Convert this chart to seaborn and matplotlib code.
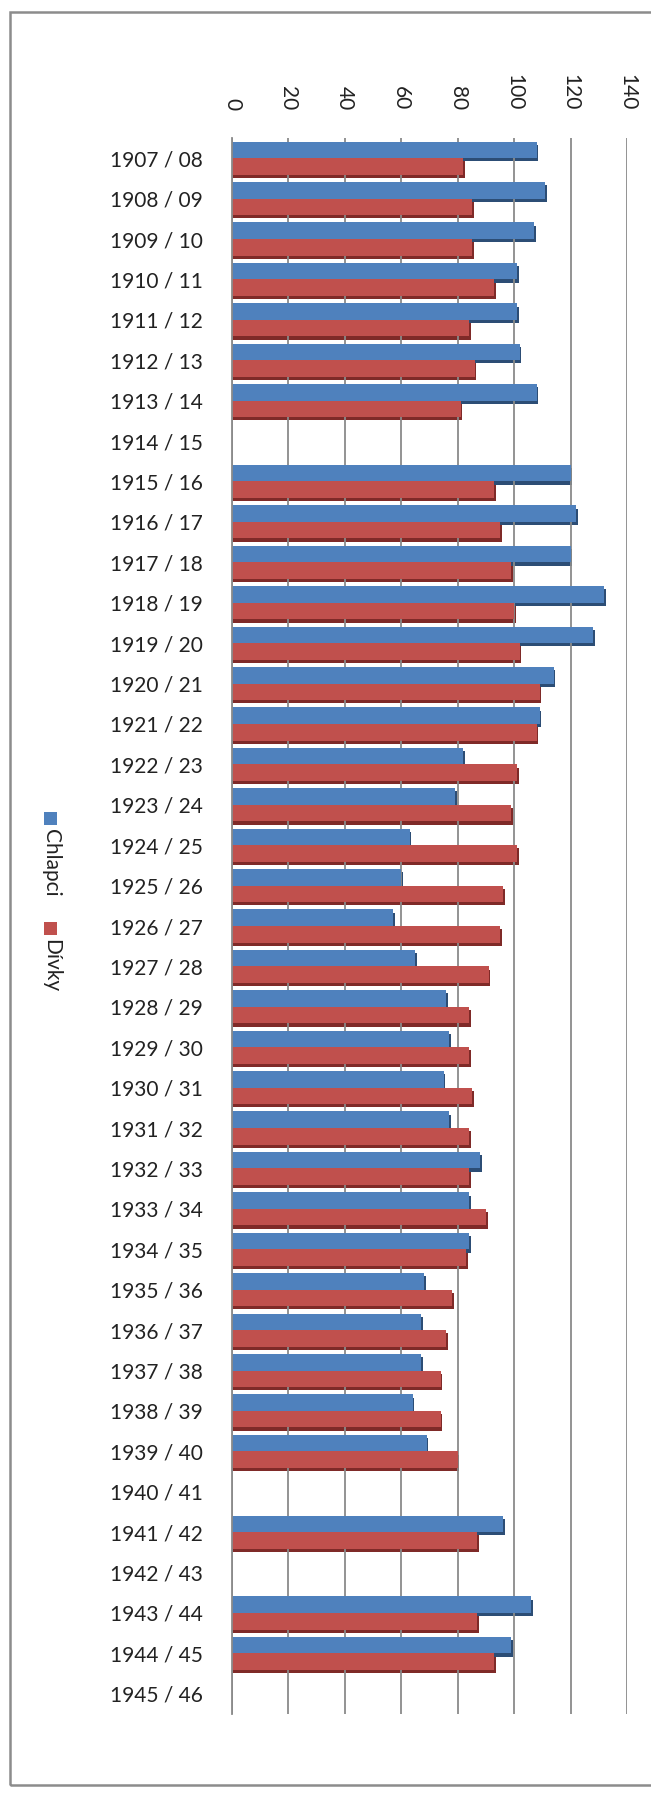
import numpy as np
import pandas as pd
import matplotlib
matplotlib.use("Agg")
import matplotlib.pyplot as plt
import seaborn as sns
from matplotlib.patches import Rectangle

# school years (categories), top to bottom
seasons = ["1907/08", "1908/09", "1909/10", "1910/11", "1911/12", "1912/13", "1913/14",
           "1914/15", "1915/16", "1916/17", "1917/18", "1918/19", "1919/20", "1920/21",
           "1921/22", "1922/23", "1923/24", "1924/25", "1925/26", "1926/27", "1927/28",
           "1928/29", "1929/30", "1930/31", "1931/32", "1932/33", "1933/34", "1934/35",
           "1935/36", "1936/37", "1937/38", "1938/39", "1939/40", "1940/41", "1941/42",
           "1942/43", "1943/44", "1944/45", "1945/46"]

nan = np.nan
chlapci = [108, 111, 107, 101, 101, 102, 108, nan, 120, 122, 120, 132, 128, 114,
           109, 82, 79, 63, 60, 57, 65, 76, 77, 75, 77, 88, 84, 84,
           68, 67, 67, 64, 69, nan, 96, nan, 106, 99, nan]
divky = [82, 85, 85, 93, 84, 86, 81, nan, 93, 95, 99, 100, 102, 109,
         108, 101, 99, 101, 96, 95, 91, 84, 84, 85, 84, 84, 90, 83,
         78, 76, 74, 74, 80, nan, 87, nan, 87, 93, nan]

series_names = ["Chlapci", "Dívky"]
colors = ["#4F81BD", "#C0504D"]
dark_colors = ["#2C4D75", "#7F2A28"]
x_ticks = [0, 20, 40, 60, 80, 100, 120, 140]

df = pd.DataFrame({
    "rok": seasons * 2,
    "pocet": chlapci + divky,
    "skupina": [series_names[0]] * len(seasons) + [series_names[1]] * len(seasons),
})

sns.set_style("white")
plt.rcParams["font.family"] = ["Lato", "DejaVu Sans"]

W, H = 651, 1796
fig = plt.figure(figsize=(W / 100, H / 100), dpi=100)
ax = fig.add_axes([232 / W, 82 / H, 395 / W, 1576 / H])

sns.barplot(data=df.dropna(), y="rok", x="pocet", hue="skupina", order=seasons,
            hue_order=series_names, palette=colors, orient="h", width=0.82,
            linewidth=0, saturation=1, legend=False, ax=ax)

# fake 3D depth: darker copy of every bar a little lower and to the right
for p in list(ax.patches):
    fc = p.get_facecolor()
    dark = dark_colors[0] if fc[2] > fc[0] else dark_colors[1]
    sh = Rectangle((p.get_x(), p.get_y() + 0.08), p.get_width() + 0.6, p.get_height(),
                   facecolor=dark, edgecolor="none", zorder=p.get_zorder() - 0.5)
    ax.add_patch(sh)

ax.set_xlim(0, 140)
ax.set_xticks(x_ticks)
ax.xaxis.tick_top()
ax.tick_params(axis="x", length=0, pad=20, labelsize=15, labelrotation=-90,
               labelcolor="#222222")
ax.set_yticks(range(len(seasons)))
ax.set_yticklabels([s.replace("/", " / ") for s in seasons])
ax.tick_params(axis="y", length=0, pad=21, labelsize=15, labelcolor="#222222")
ax.set_xlabel("")
ax.set_ylabel("")
ax.grid(axis="x", color="#8a8a8a", linewidth=1.3)
ax.set_axisbelow(True)
for s in ["top", "right", "bottom"]:
    ax.spines[s].set_visible(False)
ax.spines["left"].set_color("#8a8a8a")
ax.spines["left"].set_linewidth(1.3)

# outer chart border (open on the right)
fig.patches.append(Rectangle((10 / W, 11 / H), 1.2, (1785 - 12) / H,
                             transform=fig.transFigure, fill=False,
                             edgecolor="#8c8c8c", linewidth=1.8))

# vertical legend on the left
for i, (name, c) in enumerate(zip(series_names, colors)):
    y_top = [812, 922][i]
    fig.patches.append(Rectangle((44 / W, 1 - (y_top + 13) / H), 13 / W, 13 / H,
                                 transform=fig.transFigure, facecolor=c,
                                 edgecolor="none"))
    fig.text(51 / W, 1 - (y_top + 17) / H, name, rotation=-90, ha="center",
             va="top", fontsize=15, color="#222222")

fig.savefig("out.png", dpi=100, facecolor="white")
